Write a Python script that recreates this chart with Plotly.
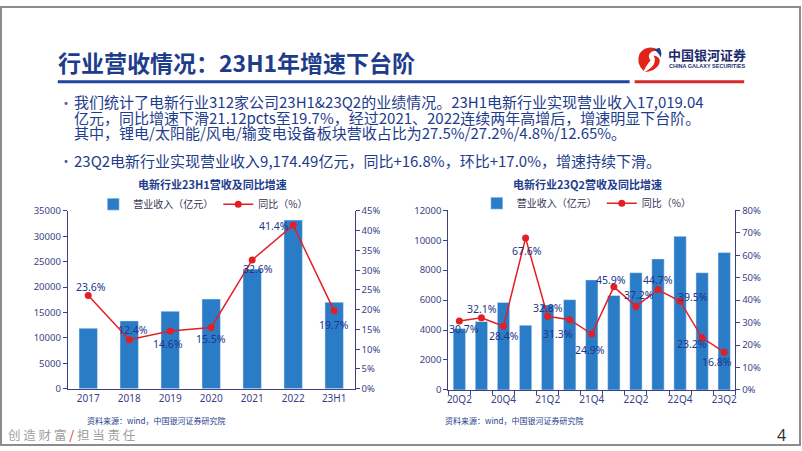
import plotly.graph_objects as go

# ---------------- data ----------------
years = ["2017", "2018", "2019", "2020", "2021", "2022", "23H1"]
rev_year = [11900, 13350, 15250, 17650, 23550, 33200, 17019.04]
yoy_year = [23.6, 12.4, 14.6, 15.5, 32.6, 41.4, 19.7]

quarters = ["20Q2", "20Q3", "20Q4", "21Q1", "21Q2", "21Q3", "21Q4",
            "22Q1", "22Q2", "22Q3", "22Q4", "23Q1", "23Q2"]
rev_q = [4100, 4570, 5840, 4320, 5680, 6030, 7350, 6310, 7830, 8750, 10260, 7830, 9174.49]
yoy_q = [30.7, 32.1, 28.4, 67.6, 32.8, 31.3, 24.9, 45.9, 37.2, 44.7, 39.5, 23.2, 16.8]
q_ticklabels = ["20Q2", "", "20Q4", "", "21Q2", "", "21Q4", "", "22Q2", "", "22Q4", "", "23Q2"]

bullets = [
    ["我们统计了电新行业312家公司23H1&23Q2的业绩情况。23H1电新行业实现营业收入17,019.04",
     "亿元，同比增速下滑21.12pcts至19.7%，经过2021、2022连续两年高增后，增速明显下台阶。",
     "其中，锂电/太阳能/风电/输变电设备板块营收占比为27.5%/27.2%/4.8%/12.65%。"],
    ["23Q2电新行业实现营业收入9,174.49亿元，同比+16.8%，环比+17.0%，增速持续下滑。"],
]

# label offsets (pixels, +y = down) for data labels
off_year = [(3, -8), (4, -10), (-2, 13), (0, 12), (6, 9), (-19, 1), (0, 14)]
off_q = [(5, 8), (1, -9), (0, 10), (1, 13), (0, -8), (-12, 14), (-2, 16),
         (-3, -7), (3, -11), (0, -10), (13, -4), (-10, 6), (-7, 10)]

# ---------------- styles ----------------
W, H = 802, 451
BAR = "#2B7CC7"
RED = "#E31F26"
NAVY = "#1E3C8C"
AXIS = "#3A3F86"
TXT = "#22358A"
CJK = "Noto Sans CJK SC"
NUM = "Noto Sans"


def px(x):
    return x / W


def py(y):
    return 1 - y / H


fig = go.Figure()

# left chart
fig.add_trace(go.Bar(x=years, y=rev_year, name="营业收入（亿元）", marker_color=BAR,
                     width=0.45, xaxis="x", yaxis="y", legend="legend"))
fig.add_trace(go.Scatter(x=years, y=yoy_year, name="同比（%）", mode="lines+markers",
                         line=dict(color=RED, width=1.5), marker=dict(color=RED, size=7, symbol="circle"),
                         xaxis="x", yaxis="y2", legend="legend"))
# right chart
fig.add_trace(go.Bar(x=quarters, y=rev_q, name="营业收入（亿元）", marker_color=BAR,
                     width=0.56, xaxis="x2", yaxis="y3", legend="legend2"))
fig.add_trace(go.Scatter(x=quarters, y=yoy_q, name="同比（%）", mode="lines+markers",
                         line=dict(color=RED, width=1.5), marker=dict(color=RED, size=7, symbol="circle"),
                         xaxis="x2", yaxis="y4", legend="legend2"))

annotations = []
# data labels (x given as category index)
for i, (v, (dx, dy)) in enumerate(zip(yoy_year, off_year)):
    annotations.append(dict(x=i, y=v, xref="x", yref="y2", text=f"{v:.1f}%", showarrow=False,
                            xshift=dx, yshift=-dy, font=dict(family=NUM, size=10.5, color=TXT)))
for i, (v, (dx, dy)) in enumerate(zip(yoy_q, off_q)):
    annotations.append(dict(x=i, y=v, xref="x2", yref="y4", text=f"{v:.1f}%", showarrow=False,
                            xshift=dx, yshift=-dy, font=dict(family=NUM, size=10.5, color=TXT)))

# title
annotations.append(dict(x=px(55), y=py(57), xref="paper", yref="paper", xanchor="left", yanchor="middle",
                        text="<b>行业营收情况：23H1年增速下台阶</b>", showarrow=False,
                        font=dict(family=CJK, size=23, color=NAVY)))
# logo text
annotations.append(dict(x=px(667), y=py(49), xref="paper", yref="paper", xanchor="left", yanchor="middle",
                        text="<b>中国银河证券</b>", showarrow=False,
                        font=dict(family=CJK, size=13, color="#1A2A6C")))
annotations.append(dict(x=px(668), y=py(61), xref="paper", yref="paper", xanchor="left", yanchor="middle",
                        text="<b>CHINA GALAXY SECURITIES</b>", showarrow=False,
                        font=dict(family="Liberation Sans Narrow, Liberation Sans", size=5.5, color="#1A2A6C")))

# bullets
line_y = [[97.5, 113.5, 129.5], [158]]
for para, ys in zip(bullets, line_y):
    annotations.append(dict(x=px(56), y=py(ys[0]), xref="paper", yref="paper", xanchor="left", yanchor="middle",
                            text="•", showarrow=False, font=dict(family=CJK, size=14, color="#4A5A8A")))
    for t, yy in zip(para, ys):
        annotations.append(dict(x=px(71), y=py(yy), xref="paper", yref="paper", xanchor="left", yanchor="middle",
                                text=t, showarrow=False, font=dict(family=CJK, size=15, color=NAVY)))

# chart titles
annotations.append(dict(x=px(212), y=py(182), xref="paper", yref="paper", xanchor="center", yanchor="middle",
                        text="<b>电新行业23H1营收及同比增速</b>", showarrow=False,
                        font=dict(family=CJK, size=11, color=NAVY)))
annotations.append(dict(x=px(589), y=py(182), xref="paper", yref="paper", xanchor="center", yanchor="middle",
                        text="<b>电新行业23Q2营收及同比增速</b>", showarrow=False,
                        font=dict(family=CJK, size=11, color=NAVY)))
# sources
for xx in (84, 444):
    annotations.append(dict(x=px(xx), y=py(426), xref="paper", yref="paper", xanchor="left", yanchor="middle",
                            text="资料来源：wind，中国银河证券研究院", showarrow=False,
                            font=dict(family=CJK, size=8, color=NAVY)))
# footer
annotations.append(dict(x=px(5), y=py(440), xref="paper", yref="paper", xanchor="left", yanchor="middle",
                        text='创 造 财 富 <span style="color:#E31F26">/</span> 担 当 责 任', showarrow=False,
                        font=dict(family=CJK, size=12.5, color="#A0A0A0")))
annotations.append(dict(x=px(783), y=py(441), xref="paper", yref="paper", xanchor="center", yanchor="middle",
                        text="4", showarrow=False, font=dict(family=NUM, size=16, color="#333333")))

shapes = [
    # underline bars
    dict(type="line", xref="paper", yref="paper", x0=px(57), x1=px(631), y0=py(77), y1=py(77),
         line=dict(color="#1E45A0", width=3)),
    dict(type="line", xref="paper", yref="paper", x0=px(636), x1=px(746), y0=py(77), y1=py(77),
         line=dict(color="#D42A2A", width=3)),
    # logo (approximate swirl)
    dict(type="path", xref="paper", yref="paper",
         path=f"M {px(660)} {py(44)} Q {px(648)} {py(38)} {px(641)} {py(48)} Q {px(637)} {py(58)} {px(645)} {py(66)} "
              f"Q {px(649)} {py(58)} {px(652)} {py(55)} Q {px(648)} {py(50)} {px(653)} {py(46)} Z",
         fillcolor="#E2231A", line=dict(width=0)),
    dict(type="path", xref="paper", yref="paper",
         path=f"M {px(655)} {py(50)} Q {px(664)} {py(52)} {px(660)} {py(60)} Q {px(655)} {py(67)} {px(646)} {py(67)} "
              f"Q {px(655)} {py(62)} {px(656)} {py(57)} Q {px(657)} {py(53)} {px(655)} {py(50)} Z",
         fillcolor="#E2231A", line=dict(width=0)),
    dict(type="path", xref="paper", yref="paper",
         path=f"M {px(661)} {py(42)} Q {px(664)} {py(47)} {px(662)} {py(52)} Q {px(660)} {py(46)} {px(655)} {py(44)} Z",
         fillcolor="#1E3C8C", line=dict(width=0)),
    # slide border
    dict(type="rect", xref="paper", yref="paper", x0=0, x1=1, y0=0, y1=1,
         line=dict(color="#8C8C8C", width=2)),
]

axis_font = dict(family=NUM, size=9.5, color=AXIS)
cat_font = dict(family=NUM, size=10, color=AXIS)

fig.update_layout(
    width=W, height=H, autosize=False,
    margin=dict(l=0, r=0, t=0, b=0),
    paper_bgcolor="white", plot_bgcolor="rgba(0,0,0,0)",
    showlegend=True,
    legend=dict(orientation="h", x=px(203), y=py(203), xanchor="center", yanchor="middle",
                font=dict(family=CJK, size=10, color="#333355"), bgcolor="rgba(0,0,0,0)",
                itemwidth=30, tracegroupgap=0),
    legend2=dict(orientation="h", x=px(588), y=py(202), xanchor="center", yanchor="middle",
                 font=dict(family=CJK, size=10, color="#333355"), bgcolor="rgba(0,0,0,0)",
                 itemwidth=30, tracegroupgap=0),
    xaxis=dict(domain=[px(67), px(355)], anchor="y", type="category", range=[-0.5, 6.5], showgrid=False,
               showline=True, linecolor=AXIS, linewidth=1, ticks="", tickfont=cat_font, tickangle=0),
    yaxis=dict(domain=[py(393), py(210)], anchor="x", range=[0, 35000], dtick=5000, showgrid=False,
               showline=True, linecolor=AXIS, linewidth=1, ticks="outside", ticklen=4, tickcolor=AXIS,
               tickfont=axis_font, zeroline=False, tickformat="d"),
    yaxis2=dict(overlaying="y", side="right", anchor="x", range=[0, 45], dtick=5, showgrid=False,
                showline=True, linecolor=AXIS, linewidth=1, ticks="outside", ticklen=4, tickcolor=AXIS,
                ticksuffix="%", tickfont=axis_font, zeroline=False),
    xaxis2=dict(domain=[px(449), px(737)], anchor="y3", type="category", range=[-0.5, 12.5], showgrid=False,
                showline=True, linecolor=AXIS, linewidth=1, ticks="outside", ticklen=4, tickcolor=AXIS,
                tickson="boundaries", tickmode="array", tickvals=quarters, ticktext=q_ticklabels,
                tickfont=cat_font, tickangle=0),
    yaxis3=dict(domain=[py(394.3), py(209.3)], anchor="x2", range=[0, 12000], dtick=2000, showgrid=False,
                showline=True, linecolor=AXIS, linewidth=1, ticks="outside", ticklen=4, tickcolor=AXIS,
                tickfont=axis_font, zeroline=False, tickformat="d"),
    yaxis4=dict(overlaying="y3", side="right", anchor="x2", range=[0, 80], dtick=10, showgrid=False,
                showline=True, linecolor=AXIS, linewidth=1, ticks="outside", ticklen=4, tickcolor=AXIS,
                ticksuffix="%", tickfont=axis_font, zeroline=False),
    annotations=annotations,
    shapes=shapes,
)

fig.write_html("out.html", config={"displayModeBar": False},
               post_script="document.body.style.margin='0';document.body.style.overflow='hidden';")
